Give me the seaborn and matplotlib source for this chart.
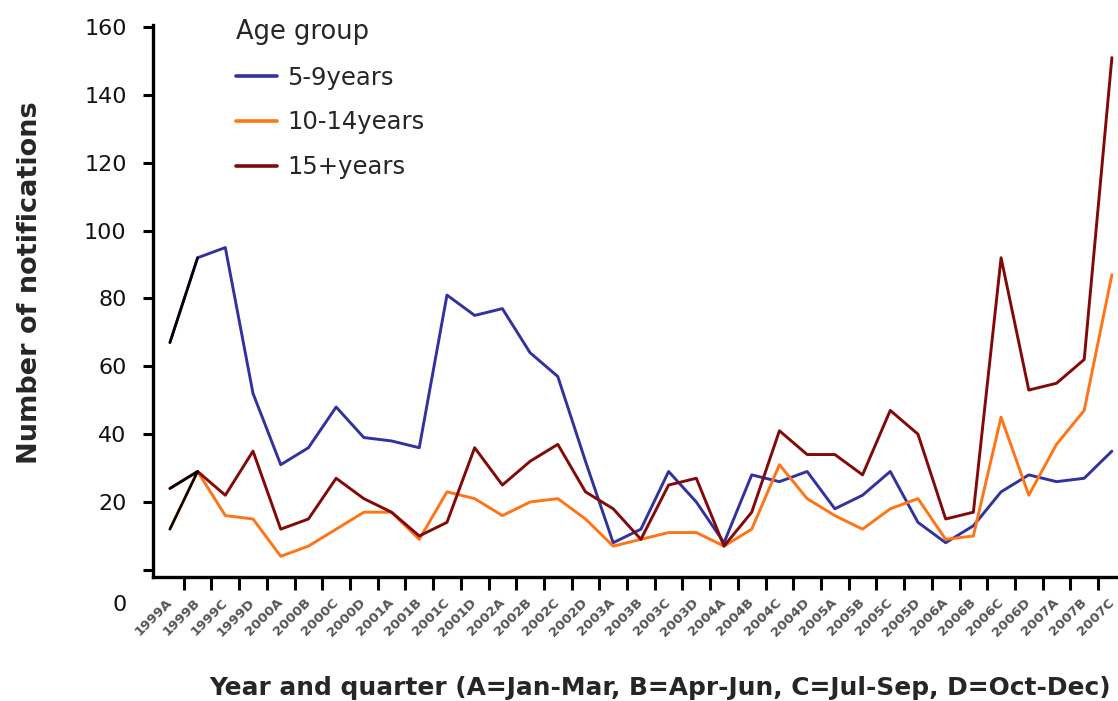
import numpy as np
import pandas as pd
import matplotlib
matplotlib.use("Agg")
import matplotlib.pyplot as plt
import matplotlib.transforms as mtransforms
import seaborn as sns

# Quarterly notifications by age group
quarters = [
    "1999A", "1999B", "1999C", "1999D",
    "2000A", "2000B", "2000C", "2000D",
    "2001A", "2001B", "2001C", "2001D",
    "2002A", "2002B", "2002C", "2002D",
    "2003A", "2003B", "2003C", "2003D",
    "2004A", "2004B", "2004C", "2004D",
    "2005A", "2005B", "2005C", "2005D",
    "2006A", "2006B", "2006C", "2006D",
    "2007A", "2007B", "2007C",
]
age_5_9 = [67, 92, 95, 52, 31, 36, 48, 39, 38, 36, 81, 75, 77, 64, 57, 32,
           8, 12, 29, 20, 8, 28, 26, 29, 18, 22, 29, 14, 8, 13, 23, 28,
           26, 27, 35]
age_10_14 = [12, 29, 16, 15, 4, 7, 12, 17, 17, 9, 23, 21, 16, 20, 21, 15,
             7, 9, 11, 11, 7, 12, 31, 21, 16, 12, 18, 21, 9, 10, 45, 22,
             37, 47, 87]
age_15_plus = [24, 29, 22, 35, 12, 15, 27, 21, 17, 10, 14, 36, 25, 32, 37, 23,
               18, 9, 25, 27, 7, 17, 41, 34, 34, 28, 47, 40, 15, 17, 92, 53,
               55, 62, 151]
group_names = ["5-9years", "10-14years", "15+years"]
y_ticks = [0, 20, 40, 60, 80, 100, 120, 140, 160]

palette = {"5-9years": "#32329e", "10-14years": "#ff7414", "15+years": "#830808"}

frames = []
for name, vals in zip(group_names, [age_5_9, age_10_14, age_15_plus]):
    frames.append(pd.DataFrame({"quarter": quarters, "count": vals, "Age group": name}))
df = pd.concat(frames, ignore_index=True)
df["pos"] = df["quarter"].map({q: i for i, q in enumerate(quarters)})

sns.set_theme(style="ticks")
plt.rcParams["font.family"] = ["DejaVu Sans"]

fig = plt.figure(figsize=(11.18, 7.01), dpi=100)
ax = fig.add_axes([153 / 1118, 124 / 701, 965 / 1118, 552 / 701])

sns.lineplot(data=df, x="pos", y="count", hue="Age group", palette=palette,
             hue_order=group_names, linewidth=2.1, sort=False, ax=ax,
             estimator=None)

# opening segment of each series is drawn in black
first = df[df["pos"] <= 1]
for name in group_names:
    sns.lineplot(data=first[first["Age group"] == name], x="pos", y="count",
                 color="black", linewidth=1.8, legend=False, ax=ax,
                 estimator=None, sort=False)

ax.set_xlim(-0.61, len(quarters) - 1 + 0.22)
ax.set_ylim(-2.1, 160.6)

ax.set_yticks(y_ticks)
ax.set_yticklabels([""] + [str(v) for v in y_ticks[1:]])
ax.text(-0.027, -10.3, "0", transform=ax.get_yaxis_transform(),
        ha="right", va="center", fontsize=16, color="#111111", clip_on=False)

ax.set_xticks(np.arange(len(quarters)))
ax.set_xticklabels(quarters, rotation=45, ha="right", va="center",
                   rotation_mode="anchor", fontsize=9.5, fontweight="bold",
                   color="#555555")
shift = mtransforms.ScaledTranslation(-7 / 100, 0, fig.dpi_scale_trans)
for lbl in ax.get_xticklabels():
    lbl.set_transform(lbl.get_transform() + shift)
ax.set_xticks(np.arange(len(quarters) - 1) + 0.5, minor=True)
ax.tick_params(axis="x", which="major", length=0, pad=17)
ax.tick_params(axis="x", which="minor", length=9, width=2.2, color="black")
ax.tick_params(axis="y", which="major", length=7, width=2.2, pad=12,
               labelsize=16, color="black", labelcolor="#111111")

for side in ["left", "bottom"]:
    ax.spines[side].set_linewidth(2.4)
    ax.spines[side].set_color("black")
sns.despine(ax=ax)

ax.set_xlabel("Year and quarter (A=Jan-Mar, B=Apr-Jun, C=Jul-Sep, D=Oct-Dec)",
              fontsize=17.9, fontweight="bold", va="center")
ax.xaxis.set_label_coords(0.525, -0.201)
ax.set_ylabel("Number of notifications", fontsize=19.5, fontweight="bold",
              va="center")
ax.yaxis.set_label_coords(-0.1275, 0.533)

handles, labels = ax.get_legend_handles_labels()
leg = ax.legend(handles[:3], labels[:3], title="Age group", frameon=False,
                loc="upper left", bbox_to_anchor=(224 / 1118, 1 - 7 / 701),
                bbox_transform=fig.transFigure, borderpad=0, fontsize=17.5,
                title_fontsize=18.5, handlelength=1.7, handletextpad=0.4,
                labelspacing=0.85, alignment="left")
for line in leg.get_lines():
    line.set_linewidth(2.6)

fig.savefig("out.png", dpi=100)
